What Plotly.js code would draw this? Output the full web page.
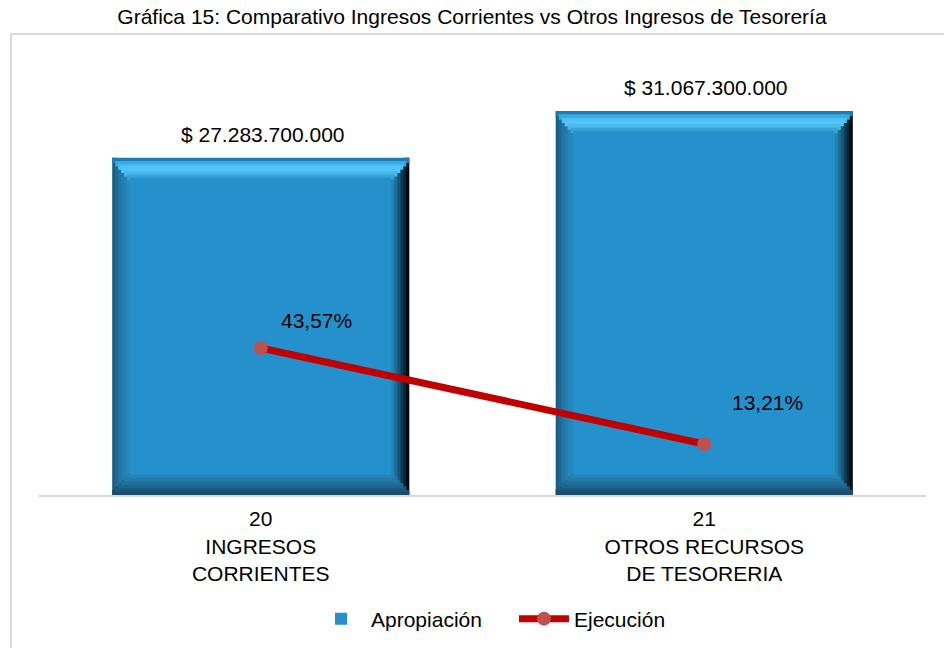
<!DOCTYPE html>
<html>
<head>
<meta charset="utf-8">
<script src="https://cdn.plot.ly/plotly-3.0.1.min.js"></script>
<style>
  html, body { margin: 0; padding: 0; background: #ffffff; overflow: hidden; }
  #frame { position: absolute; left: 10px; top: 33px; width: 1000px; height: 700px;
           border: 2px solid #d9d9d9; box-sizing: border-box; z-index: 0; }
  #chart { position: absolute; left: 0; top: 0; width: 944px; height: 648px; z-index: 1; }
</style>
</head>
<body>
<div id="frame"></div>
<div id="chart"></div>
<script>
// ---- data ----
const categories = ["20<br>INGRESOS<br>CORRIENTES", "21<br>OTROS RECURSOS<br>DE TESORERIA"];
const apropiacion = [27283700000, 31067300000];
const ejecucion = [43.57, 13.21];
const seriesNames = ["Apropiación", "Ejecución"];
const chartTitle = "Gráfica 15: Comparativo Ingresos Corrientes vs Otros Ingresos de Tesorería";

// ---- layout / style constants ----
const W = 944, H = 648;
const M = { l: 39, r: 18, t: 60, b: 153 };
const plotH = H - M.t - M.b;
const plotW = W - M.l - M.r;
const yMax = 35.19e9;
const y2Range = [-2.92, 134.65];
const barW = 0.67;
const N = 6;                                  // bevel gradient steps
const pxX = 1 / (plotW / 2);                  // one pixel in category units
const pxY = yMax / plotH;                     // one pixel in data units
const dx = 18 * pxX / N;                      // step width
const dy = 20 * pxY / N;                      // step height
const ovX = 2 * pxX, ovY = 2 * pxY;           // overlap to avoid seams
const FONT = 'Liberation Sans, Arial, sans-serif';

const faceColor = '#2591cc';
const topCols    = ['#1f7db0', '#3aa9e0', '#4cc0f5', '#52c6f8', '#47b9ed', '#35a3da'];
const leftCols   = ['#1a5e86', '#1d6a95', '#2075a3', '#227eae', '#2585b8', '#2689c0'];
const rightCols  = ['#020a0f', '#0a2434', '#113c56', '#185676', '#1e6d96', '#2381b4'];
const bottomCols = ['#1a4c6b', '#1c577b', '#1e638b', '#206f9b', '#227aa8', '#2483b4'];

const xs = categories.map((_, i) => i);

// one overlay bar trace holding the bevel strips of one side of every bar
function sideTrace(side, cols) {
  const t = { x: [], y: [], base: [], width: [], offset: [], color: [] };
  apropiacion.forEach((v, i) => {
    const L = -barW / 2, R = barW / 2;
    for (let k = 0; k < N; k++) {
      let x0, x1, y0, y1;
      if (side === 'left')   { x0 = L + k * dx; x1 = L + (k + 1) * dx + ovX; y0 = k * dy; y1 = v - k * dy; }
      if (side === 'right')  { x1 = R - k * dx; x0 = R - (k + 1) * dx - ovX; y0 = k * dy; y1 = v - k * dy; }
      if (side === 'top')    { x0 = L + k * dx; x1 = R - k * dx; y1 = v - k * dy; y0 = v - (k + 1) * dy - ovY; }
      if (side === 'bottom') { x0 = L + k * dx; x1 = R - k * dx; y0 = k * dy; y1 = (k + 1) * dy + ovY; }
      t.x.push(xs[i]); t.base.push(y0); t.y.push(y1 - y0);
      t.offset.push(x0); t.width.push(x1 - x0); t.color.push(cols[k]);
    }
  });
  return {
    type: 'bar', x: t.x, y: t.y, base: t.base, width: t.width, offset: t.offset,
    marker: { color: t.color, line: { width: 0 } }, hoverinfo: 'skip', showlegend: false
  };
}

const traces = [
  sideTrace('left', leftCols),
  sideTrace('right', rightCols),
  sideTrace('bottom', bottomCols),
  sideTrace('top', topCols),
  {
    type: 'bar', x: xs, y: apropiacion.map(v => v - 2 * N * dy), base: apropiacion.map(() => N * dy),
    width: barW - 2 * N * dx, offset: -barW / 2 + N * dx, name: seriesNames[0],
    marker: { color: faceColor, line: { width: 0 } }, hoverinfo: 'skip', showlegend: true
  },
  {
    type: 'scatter', mode: 'lines+markers', x: xs, y: ejecucion, yaxis: 'y2', name: seriesNames[1],
    line: { color: '#c00000', width: 7 },
    marker: { color: '#c0504d', size: 14, line: { width: 0 } },
    hoverinfo: 'skip', cliponaxis: false
  }
];

const annotations = [];
apropiacion.forEach((v, i) => {
  annotations.push({
    x: xs[i], y: v, xref: 'x', yref: 'y', yanchor: 'bottom', yshift: 10, xshift: 2,
    text: '$ ' + v.toLocaleString('de-DE'), showarrow: false,
    font: { family: FONT, size: 21, color: '#000000' }
  });
});
const lblShift = [[56, 28], [63, 42]];
ejecucion.forEach((v, i) => {
  annotations.push({
    x: xs[i], y: v, xref: 'x', yref: 'y2', xshift: lblShift[i][0], yshift: lblShift[i][1],
    text: v.toFixed(2).replace('.', ',') + '%', showarrow: false,
    font: { family: FONT, size: 21, color: '#000000' }
  });
});

const layout = {
  width: W, height: H,
  margin: M,
  paper_bgcolor: 'rgba(0,0,0,0)', plot_bgcolor: 'rgba(0,0,0,0)',
  font: { family: FONT, size: 21, color: '#000000' },
  title: { text: chartTitle, x: 0.5, xanchor: 'center', yref: 'container', y: 1 - 17 / H, yanchor: 'middle',
           font: { family: FONT, size: 21, color: '#000000' } },
  barmode: 'overlay',
  xaxis: {
    range: [-0.5, 1.5], tickvals: xs, ticktext: categories, showgrid: false, zeroline: false,
    showline: true, linecolor: '#d9d9d9', linewidth: 2, ticks: '', fixedrange: true,
    ticklabelstandoff: 4,
    tickfont: { family: FONT, size: 21, color: '#000000' }
  },
  yaxis: { range: [0, yMax], visible: false, fixedrange: true },
  yaxis2: { range: y2Range, overlaying: 'y', side: 'right', visible: false, fixedrange: true },
  showlegend: true,
  legend: {
    orientation: 'h', xref: 'container', x: 311 / W, xanchor: 'left',
    yref: 'container', y: 1 - 619 / H, yanchor: 'middle',
    entrywidth: 138, entrywidthmode: 'pixels',
    font: { family: FONT, size: 21, color: '#000000' }, itemwidth: 50, traceorder: 'normal'
  },
  annotations: annotations
};

Plotly.newPlot('chart', traces, layout, { staticPlot: true, displayModeBar: false });
</script>
</body>
</html>
